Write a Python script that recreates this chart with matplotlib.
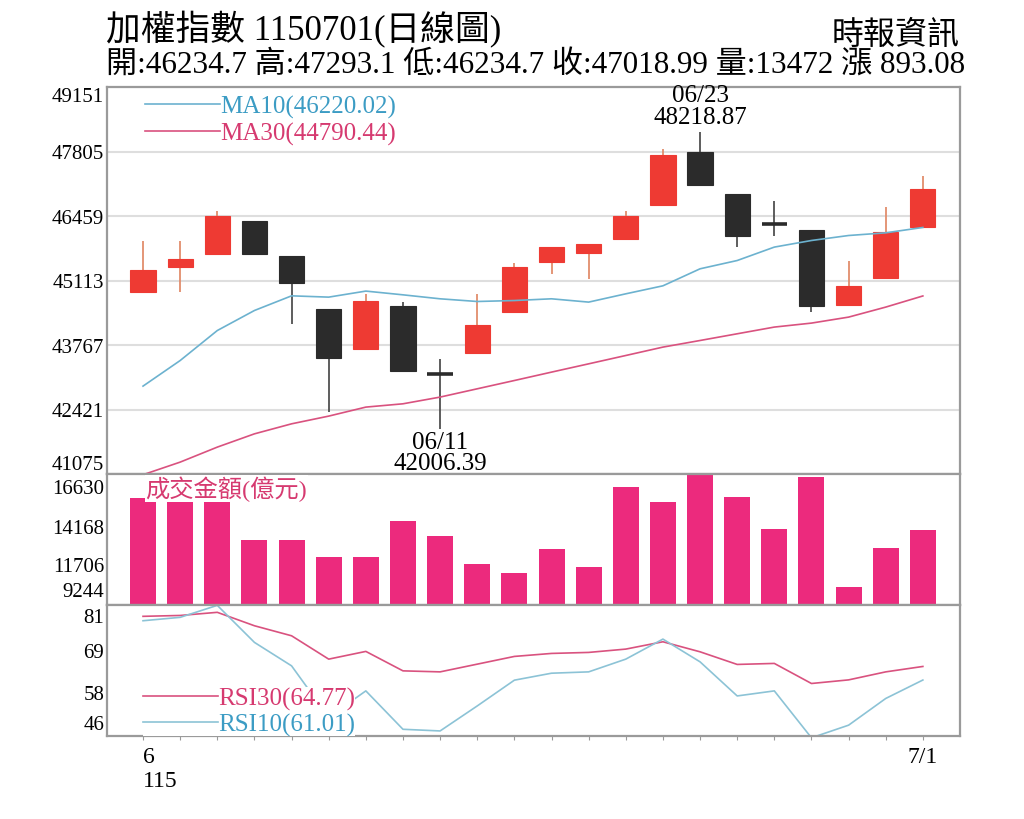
import numpy as np
import matplotlib
matplotlib.use("Agg")
import matplotlib.pyplot as plt
from matplotlib.lines import Line2D

FONT = ['Liberation Serif', 'Noto Sans CJK TC', 'DejaVu Sans']
plt.rcParams['font.family'] = FONT

# 115/06/01 - 115/07/01 trading days
dates = ['06/01', '06/02', '06/03', '06/04', '06/05', '06/08', '06/09', '06/10',
         '06/11', '06/12', '06/15', '06/16', '06/17', '06/18', '06/22', '06/23',
         '06/24', '06/25', '06/26', '06/29', '06/30', '07/01']

opens = [44871, 45405, 45664, 46365, 45622, 44508, 43687, 44578, 43180, 43598, 44453,
         45497, 45691, 45983, 46693, 47799, 46916, 46320, 46177, 44606, 45169, 46234.7]
highs = [45935, 45935, 46553, 46365, 45622, 44508, 44821, 44662, 43479, 44821, 45476,
         45810, 45879, 46561, 47861, 48218.87, 46916, 46782, 46177, 45530, 46645, 47293.1]
lows = [44871, 44871, 45664, 45670, 44209, 42379, 43687, 43234, 42006.39, 43598, 44453,
        45253, 45148, 45983, 46693, 47110, 45810, 46052, 44453, 44606, 45169, 46234.7]
closes = [45342, 45566, 46457, 45670, 45071, 43493, 44695, 43234, 43160, 44174, 45405,
          45810, 45879, 46457, 47742, 47110, 46052, 46300, 44591, 44996, 46123, 47018.99]

ma10 = [42909, 43443, 44069, 44487, 44793, 44766, 44892, 44814, 44731, 44675, 44695,
        44731, 44662, 44835, 45002, 45357, 45530, 45810, 45948, 46052, 46108, 46220.02]
ma30 = [41060, 41323, 41636, 41913, 42122, 42283, 42471, 42540, 42680, 42853, 43026,
        43201, 43374, 43548, 43723, 43861, 44001, 44141, 44224, 44349, 44558, 44790.44]

volume = [16019, 17480, 15776, 13235, 13235, 12119, 12119, 14483, 13498, 11660, 11095,
          12690, 11528, 16695, 15730, 17560, 16039, 14003, 17352, 10215, 12736, 13892]

rsi30 = [78.66, 78.9, 79.77, 76.05, 73.27, 66.8, 68.94, 63.55, 63.27, 65.41, 67.55,
         68.38, 68.66, 69.58, 71.61, 68.83, 65.33, 65.61, 60.05, 61.05, 63.27, 64.77]
rsi10 = [77.44, 78.38, 81.7, 71.44, 64.94, 50.7, 58.0, 47.36, 46.9, 53.83, 60.97,
         62.9, 63.27, 66.8, 72.35, 66.05, 56.6, 58.0, 45.0, 48.5, 55.9, 61.01]

price_ticks = [41075, 42421, 43767, 45113, 46459, 47805, 49151]
vol_ticks = [9244, 11706, 14168, 16630]
rsi_ticks = np.linspace(46, 81, 4)

RED = '#ee3a33'
BLACK = '#2b2b2b'
BLUE = '#6cb2cf'
PINK = '#d9527f'
BLUE_TXT = '#3c9cc4'
PINK_TXT = '#d63a70'
BAR = '#ec2a7d'
FRAME = '#9a9a9a'

fig = plt.figure(figsize=(10.24, 8.2), dpi=100)
L, W = 107 / 1024, 853 / 1024
ax1 = fig.add_axes([L, (820 - 475) / 820, W, 387 / 820])
ax2 = fig.add_axes([L, (820 - 606) / 820, W, 131 / 820], sharex=ax1)
ax3 = fig.add_axes([L, (820 - 737) / 820, W, 131 / 820], sharex=ax1)

x = np.arange(len(dates))

# candles
for i in range(len(dates)):
    o, h, l, c = opens[i], highs[i], lows[i], closes[i]
    up = c > o
    wick = '#e28d6c' if up else '#505050'
    ax1.vlines(i, l, h, color=wick, lw=1.3, zorder=2)
    if abs(c - o) < 40:
        ax1.hlines(c, i - 0.34, i + 0.34, color=BLACK, lw=2.6, zorder=3)
    else:
        ax1.bar(i, abs(c - o), bottom=min(o, c), width=0.68,
                color=RED if up else BLACK, edgecolor=RED if up else BLACK,
                lw=0.8, zorder=3)

ax1.plot(x, ma10, color=BLUE, lw=1.2, zorder=4)
ax1.plot(x, ma30, color=PINK, lw=1.2, zorder=4)

hi = int(np.argmax(highs))
lo = int(np.argmin(lows))
ax1.annotate(f"{dates[hi]}\n{highs[hi]:.2f}", (hi, highs[hi]), xytext=(0, 3),
             textcoords='offset points', ha='center', va='bottom', fontsize=18,
             linespacing=0.95, zorder=6)
ax1.annotate(f"{dates[lo]}\n{lows[lo]:.2f}", (lo, lows[lo]), xytext=(0, -1),
             textcoords='offset points', ha='center', va='top', fontsize=18,
             linespacing=0.95, zorder=6)

ax1.set_ylim(price_ticks[0], price_ticks[-1])
ax1.set_yticks(price_ticks)
for v in price_ticks[1:-1]:
    ax1.axhline(v, color='#dedede', lw=1.5, zorder=1)

leg1 = ax1.legend([Line2D([], [], color=BLUE, lw=1.2), Line2D([], [], color=PINK, lw=1.2)],
                  [f"MA10({ma10[-1]:.2f})", f"MA30({ma30[-1]:.2f})"],
                  loc='upper left', bbox_to_anchor=(0.042, 0.985), frameon=False,
                  fontsize=18, handlelength=3.0, handletextpad=0.0, labelspacing=0.15,
                  borderaxespad=0.0, borderpad=0.1)
for t, col in zip(leg1.get_texts(), [BLUE_TXT, PINK_TXT]):
    t.set_color(col)

# volume
ax2.bar(x, volume, width=0.7, color=BAR, zorder=2)
ax2.set_ylim(9014, 17570)
ax2.set_yticks(vol_ticks)
ax2.text(0.045, 0.985, "成交金額(億元)", transform=ax2.transAxes, ha='left', va='top',
         fontsize=17.5, color=PINK_TXT, zorder=5,
         bbox=dict(facecolor='white', edgecolor='none', pad=0.5))

# RSI
l30, = ax3.plot(x, rsi30, color=PINK, lw=1.2)
l10, = ax3.plot(x, rsi10, color='#8cc3d6', lw=1.2)
ax3.set_ylim(45.5, 81.8)
ax3.set_yticks(rsi_ticks)
ax3.set_yticklabels([f"{v:.0f}" for v in rsi_ticks])
leg3 = ax3.legend([l30, l10], [f"RSI30({rsi30[-1]:.2f})", f"RSI10({rsi10[-1]:.2f})"],
                  loc='lower left', bbox_to_anchor=(0.042, 0.0), frameon=True,
                  fontsize=18, handlelength=3.0, handletextpad=0.0, labelspacing=0.1,
                  borderaxespad=0.0, borderpad=0.0, fancybox=False)
leg3.get_frame().set_facecolor('white')
leg3.get_frame().set_edgecolor('none')
leg3.get_frame().set_alpha(1.0)
for t, col in zip(leg3.get_texts(), [PINK_TXT, BLUE_TXT]):
    t.set_color(col)

ax1.set_xlim(-0.97, 22.0)
ax3.set_xticks(x)
xt = [''] * len(x)
xt[0] = '6\n115'
xt[-1] = '7/1'
ax3.set_xticklabels(xt, fontsize=17)
ax3.get_xticklabels()[0].set_ha('left')
ax3.get_xticklabels()[0].set_multialignment('left')

for ax in (ax1, ax2, ax3):
    for s in ax.spines.values():
        s.set_color(FRAME)
        s.set_linewidth(1.6)
    ax.tick_params(axis='y', length=0, pad=2, labelsize=15)
for ax in (ax1, ax2):
    ax.tick_params(axis='x', length=0, labelbottom=False)
ax3.tick_params(axis='x', length=3, direction='out', color=FRAME, pad=4)

for ax in (ax1, ax2, ax3):
    labs = ax.get_yticklabels()
    labs[0].set_va('bottom')
    labs[-1].set_va('top')
ax2.get_yticklabels()[-1].set_va('center')

fig.text(106 / 1024, 1 - 30 / 820, "加權指數 1150701(日線圖)", fontsize=25, ha='left', va='center')
fig.text(960 / 1024, 1 - 36 / 820, "時報資訊", fontsize=23, ha='right', va='center')
fig.text(106 / 1024, 1 - 66 / 820,
         f"開:{opens[-1]} 高:{highs[-1]} 低:{lows[-1]} 收:{closes[-1]} 量:13472 漲 893.08",
         fontsize=22.4, ha='left', va='center')

fig.savefig("out.png", dpi=100)
